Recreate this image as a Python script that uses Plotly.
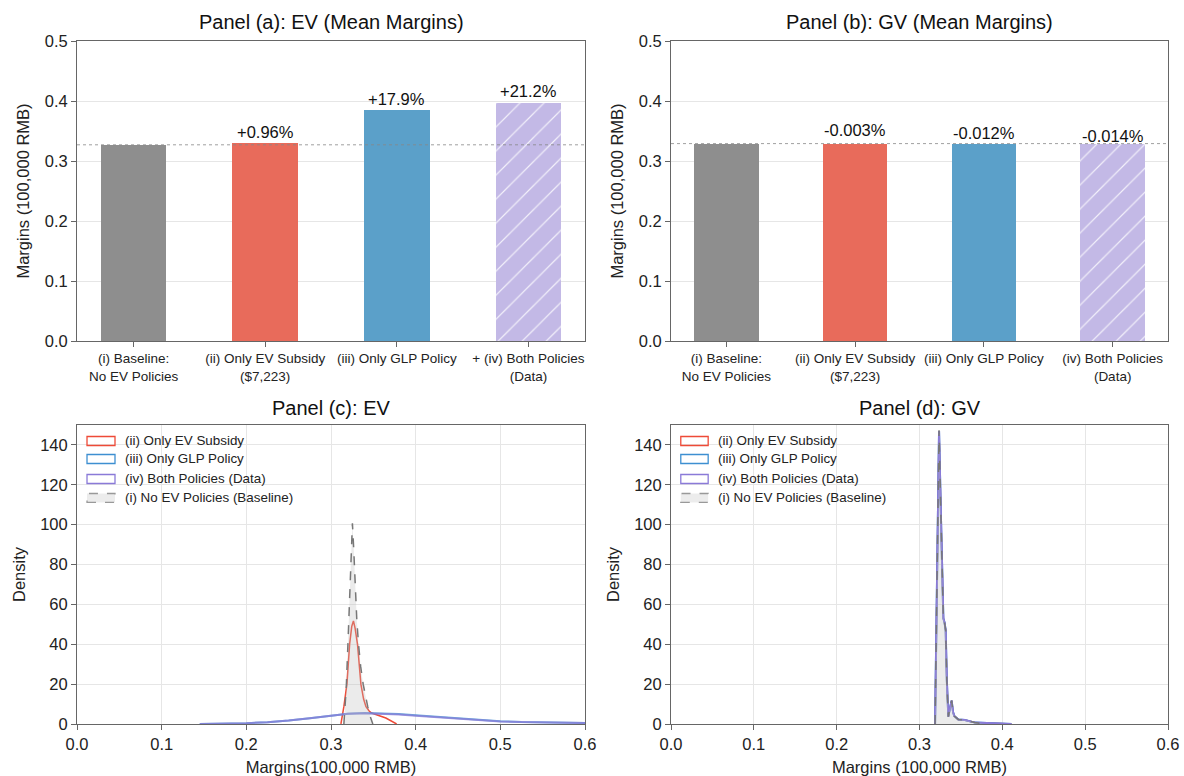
import plotly.graph_objects as go

#### Data ####
bar_labels_ev = ["(i) Baseline:<br>No EV Policies", "(ii) Only EV Subsidy<br>($7,223)",
                 "(iii) Only GLP Policy", "+ (iv) Both Policies<br>(Data)"]
bar_labels_gv = ["(i) Baseline:<br>No EV Policies", "(ii) Only EV Subsidy<br>($7,223)",
                 "(iii) Only GLP Policy", "(iv) Both Policies<br>(Data)"]
ev_margins = [0.327, 0.330, 0.3855, 0.3963]
gv_margins = [0.329, 0.329, 0.329, 0.329]
ev_pct = ["", "+0.96%", "+17.9%", "+21.2%"]
gv_pct = ["", "-0.003%", "-0.012%", "-0.014%"]

# panel (c): EV margin densities
ev_base_x = [0.3152, 0.318, 0.320, 0.3224, 0.324, 0.3253, 0.3268, 0.3285, 0.3305, 0.3325,
             0.335, 0.338, 0.3405, 0.3434, 0.3465, 0.3494]
ev_base_y = [0, 18, 40, 70, 90, 100.7, 88, 70, 52, 40, 29, 20, 14, 8.7, 3.5, 0]
ev_sub_x = [0.3117, 0.3152, 0.3188, 0.322, 0.3245, 0.3265, 0.3285, 0.3313, 0.3353, 0.3385,
            0.3413, 0.345, 0.348, 0.353, 0.358, 0.3648, 0.371, 0.3775]
ev_sub_y = [0, 8.7, 20, 40, 49, 51.7, 48, 40, 20, 12.5, 8.7, 6.5, 5.5, 4.6, 4.0, 3.0, 1.6, 0]
ev_wide_x = [0.145, 0.17, 0.2, 0.225, 0.25, 0.275, 0.3, 0.32, 0.34, 0.36, 0.38, 0.4,
             0.425, 0.45, 0.475, 0.5, 0.525, 0.55, 0.575, 0.6]
ev_glp_y = [0.05, 0.15, 0.4, 0.9, 1.7, 2.9, 4.3, 5.1, 5.5, 5.4, 5.0, 4.4, 3.6, 2.8, 2.0,
            1.4, 1.0, 0.75, 0.6, 0.5]
ev_both_y = [0.05, 0.15, 0.4, 0.9, 1.7, 2.9, 4.3, 5.1, 5.4, 5.2, 4.8, 4.2, 3.4, 2.6, 1.9,
             1.3, 0.95, 0.7, 0.55, 0.45]

# panel (d): GV margin densities
gv_base_x = [0.3188, 0.3205, 0.322, 0.3236, 0.326, 0.3275, 0.3288, 0.3302, 0.3316, 0.333,
             0.3348, 0.3368, 0.3388, 0.3405, 0.342, 0.3468, 0.3548, 0.3668, 0.38]
gv_base_y = [0, 52, 98, 147.3, 102, 70, 53, 51, 47, 22, 3.7, 8, 11.7, 6, 4, 2.3, 2.0, 0.7, 0]
gv_pol_x = [0.3188, 0.3205, 0.322, 0.3236, 0.326, 0.3275, 0.3288, 0.3302, 0.3316, 0.333,
            0.3348, 0.3368, 0.3388, 0.3405, 0.342, 0.3468, 0.3548, 0.3668, 0.38, 0.395, 0.411]
gv_pol_y = [0, 52, 98, 147.0, 102, 70, 53, 51, 47, 22, 3.7, 8, 11.7, 6, 4, 2.3, 2.0, 0.7,
            0.4, 0.2, 0]

legend_labels = ["(ii) Only EV Subsidy", "(iii) Only GLP Policy",
                 "(iv) Both Policies (Data)", "(i) No EV Policies (Baseline)"]

#### Styles ####
FONT = "Liberation Sans, Arial, sans-serif"
bar_colors = ["#8e8e8e", "#e86b5b", "#5ba0c9", "#c3b9e6"]
bar_hatch = ["", "", "", "/"]
c_red, c_blue, c_purple, c_gray = "#ee4a37", "#3d8fd1", "#8a7ad8", "#777777"
grid = "#e6e6e6"
axline = "#666666"

W, H = 1184, 776
def px_x(p):
    return p / W
def px_y(p):
    return 1 - p / H

fig = go.Figure()

## Bars (a) and (b)
for xa, ya, vals in [("x", "y", ev_margins), ("x2", "y2", gv_margins)]:
    for i in range(4):
        fig.add_trace(go.Bar(
            x=[i], y=[vals[i]], width=0.5, xaxis=xa, yaxis=ya,
            marker=dict(color=bar_colors[i], line_width=0,
                        pattern=dict(shape=bar_hatch[i], fillmode="replace",
                                     bgcolor=bar_colors[i], fgcolor="white",
                                     fgopacity=0.8, size=17, solidity=0.07)),
            showlegend=False, hoverinfo="y",
        ))

## Densities (c)
fig.add_trace(go.Scatter(x=ev_sub_x, y=ev_sub_y, mode="lines", xaxis="x3", yaxis="y3",
                         line=dict(color=c_red, width=1.5), showlegend=False))
fig.add_trace(go.Scatter(x=ev_wide_x, y=ev_glp_y, mode="lines", xaxis="x3", yaxis="y3",
                         line=dict(color=c_blue, width=2), opacity=0.75, showlegend=False))
fig.add_trace(go.Scatter(x=ev_wide_x, y=ev_both_y, mode="lines", xaxis="x3", yaxis="y3",
                         line=dict(color=c_purple, width=2), opacity=0.75, showlegend=False))
fig.add_trace(go.Scatter(x=ev_base_x, y=ev_base_y, mode="lines", xaxis="x3", yaxis="y3",
                         fill="tozeroy", fillcolor="rgba(190,190,190,0.3)",
                         line=dict(color=c_gray, width=1.5, dash="dash"), showlegend=False))

## Densities (d)
fig.add_trace(go.Scatter(x=gv_pol_x, y=gv_pol_y, mode="lines", xaxis="x4", yaxis="y4",
                         line=dict(color=c_red, width=1.5), showlegend=False))
fig.add_trace(go.Scatter(x=gv_pol_x, y=gv_pol_y, mode="lines", xaxis="x4", yaxis="y4",
                         line=dict(color=c_blue, width=2), showlegend=False))
fig.add_trace(go.Scatter(x=gv_pol_x, y=gv_pol_y, mode="lines", xaxis="x4", yaxis="y4",
                         line=dict(color=c_purple, width=2), showlegend=False))
fig.add_trace(go.Scatter(x=gv_base_x, y=gv_base_y, mode="lines", xaxis="x4", yaxis="y4",
                         fill="tozeroy", fillcolor="rgba(190,190,190,0.3)",
                         line=dict(color=c_gray, width=1.5, dash="dash"), showlegend=False))

## Axes
dom_x = [[px_x(77), px_x(585)], [px_x(671), px_x(1168)]]
dom_y_top = [px_y(341), px_y(41)]
dom_y_bot = [px_y(724), px_y(425)]

common = dict(showline=True, mirror=True, linecolor=axline, linewidth=1,
              ticks="outside", ticklen=5, tickcolor=axline, zeroline=False,
              automargin=False, tickfont=dict(size=16.5, color="#222"))

def bar_x(dom, labels):
    return dict(common, domain=dom, range=[-0.43, 3.43], tickvals=list(range(4)),
                ticktext=labels, showgrid=False, tickfont=dict(size=13.5, color="#222"))

def bar_y(dom, anchor):
    return dict(common, domain=dom, anchor=anchor, range=[0, 0.5], dtick=0.1,
                tickformat=".1f", showgrid=True, gridcolor=grid,
                title=dict(text="Margins (100,000 RMB)", font=dict(size=16.5), standoff=10))

def den_x(dom, anchor, title):
    return dict(common, domain=dom, anchor=anchor, range=[0, 0.6], dtick=0.1,
                tickformat=".1f", showgrid=True, gridcolor=grid,
                title=dict(text=title, font=dict(size=16.5), standoff=11))

def den_y(dom, anchor):
    return dict(common, domain=dom, anchor=anchor, range=[0, 150], dtick=20,
                showgrid=True, gridcolor=grid,
                title=dict(text="Density", font=dict(size=16.5), standoff=10))

fig.update_layout(
    xaxis=dict(bar_x(dom_x[0], bar_labels_ev), anchor="y"),
    yaxis=bar_y(dom_y_top, "x"),
    xaxis2=dict(bar_x(dom_x[1], bar_labels_gv), anchor="y2"),
    yaxis2=bar_y(dom_y_top, "x2"),
    xaxis3=den_x(dom_x[0], "y3", "Margins(100,000 RMB)"),
    yaxis3=den_y(dom_y_bot, "x3"),
    xaxis4=den_x(dom_x[1], "y4", "Margins (100,000 RMB)"),
    yaxis4=den_y(dom_y_bot, "x4"),
)

## Baseline reference lines and percentage labels
shapes = []
annotations = []
for xa, ya, vals, pct, shifts in [("x", "y", ev_margins, ev_pct, [0, 0, 0, 1]),
                                  ("x2", "y2", gv_margins, gv_pct, [0, 3, 0, -3])]:
    shapes.append(dict(type="line", xref=xa + " domain", yref=ya, x0=0, x1=1,
                       y0=vals[0], y1=vals[0], line=dict(color="#888", width=0.8, dash="dot")))
    for i in range(1, 4):
        annotations.append(dict(x=i, y=vals[i], xref=xa, yref=ya, text=pct[i],
                                showarrow=False, xanchor="center", yanchor="bottom",
                                yshift=shifts[i], font=dict(size=16.5, color="#111")))

## Panel titles
titles = ["Panel (a): EV (Mean Margins)", "Panel (b): GV (Mean Margins)",
          "Panel (c): EV", "Panel (d): GV"]
title_y = [px_y(22), px_y(22), px_y(408), px_y(408)]
for k, t in enumerate(titles):
    d = dom_x[k % 2]
    annotations.append(dict(x=(d[0] + d[1]) / 2, y=title_y[k], xref="paper", yref="paper",
                            text=t, showarrow=False, xanchor="center", yanchor="middle",
                            font=dict(size=20, color="#111")))

## Hand-drawn legends for (c) and (d)
leg_line = [c_red, c_blue, c_purple, "#999999"]
leg_fill = ["rgba(0,0,0,0)"] * 3 + ["rgba(200,200,200,0.35)"]
leg_dash = ["solid"] * 3 + ["dash"]
row_y = [0.9465, 0.8863, 0.8194, 0.7559]
for xa, ya in [("x3", "y3"), ("x4", "y4")]:
    for k in range(4):
        shapes.append(dict(type="rect", xref=xa + " domain", yref=ya + " domain",
                           x0=0.0197, x1=0.0748, y0=row_y[k] - 0.015, y1=row_y[k] + 0.015,
                           line=dict(color=leg_line[k], width=1.3, dash=leg_dash[k]),
                           fillcolor=leg_fill[k]))
        annotations.append(dict(x=0.0906, y=row_y[k], xref=xa + " domain",
                                yref=ya + " domain", text=legend_labels[k], showarrow=False,
                                xanchor="left", yanchor="middle",
                                font=dict(size=13.4, color="#222")))

fig.update_layout(
    shapes=shapes, annotations=annotations,
    width=W, height=H, margin=dict(l=0, r=0, t=0, b=0, autoexpand=False),
    paper_bgcolor="white", plot_bgcolor="white",
    font=dict(family=FONT, color="#222"),
    bargap=0, barmode="overlay", showlegend=False,
)

# drop the default 8px page margin so the figure fills the window exactly
fig.write_html("out.html", config={"displayModeBar": False},
               post_script="document.body.style.margin='0';document.body.style.overflow='hidden';")
